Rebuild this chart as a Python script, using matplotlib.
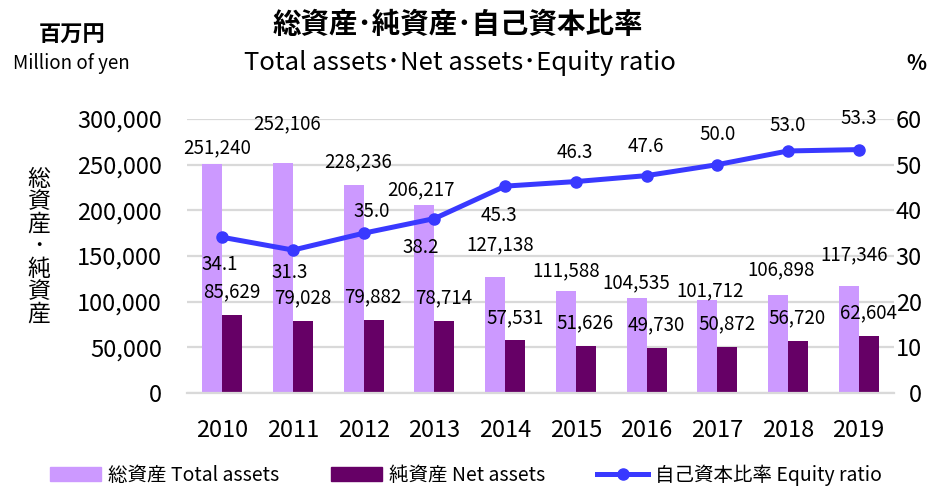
import matplotlib
matplotlib.use("Agg")
import matplotlib.pyplot as plt
import numpy as np
from matplotlib.patches import Patch
from matplotlib.lines import Line2D

plt.rcParams['font.family'] = ['Noto Sans CJK JP', 'DejaVu Sans']

years = ['2010', '2011', '2012', '2013', '2014', '2015', '2016', '2017', '2018', '2019']
total_assets = [251240, 252106, 228236, 206217, 127138, 111588, 104535, 101712, 106898, 117346]
net_assets = [85629, 79028, 79882, 78714, 57531, 51626, 49730, 50872, 56720, 62604]
equity_ratio = [34.1, 31.3, 35.0, 38.2, 45.3, 46.3, 47.6, 50.0, 53.0, 53.3]

# label offsets in pixels (dx from category centre, dy above the mark)
total_dx = [-5, -5.6, -5.2, -13.8, -5.4, -10, -10.6, -7.2, -6.8, -4.4]
total_dy = [15.5, 38.7, 22.5, 14.7, 31.9, 20.1, 14.5, 9.1, 25.4, 30.8]
ratio_dx = [-3, -3.6, 7.8, -13.8, -6.4, -1, -0.6, 0, -0.8, -0.4]
ratio_dy = [-27.7, -22.9, 21.2, -28.5, -28.9, 29.5, 29.6, 29.7, 25, 30.6]

c_total = '#cc99ff'
c_net = '#660066'
c_line = '#3939ff'
c_grid = '#d9d9d9'

W, H = 928, 487
fig = plt.figure(figsize=(W / 100, H / 100), dpi=100)
ax = fig.add_axes([187 / W, 1 - 393 / H, (894 - 187) / W, (393 - 119) / H])
ax2 = ax.twinx()

x = np.arange(len(years))
w = 0.283
ax.bar(x - w / 2, total_assets, w, color=c_total, zorder=2)
ax.bar(x + w / 2, net_assets, w, color=c_net, zorder=2)

ax.set_xlim(-0.5, len(years) - 0.5)
ax.set_ylim(0, 300000)
ax.set_yticks(np.arange(0, 300001, 50000))
ax.set_yticklabels([f'{v:,}' for v in range(0, 300001, 50000)])
ax.set_xticks(x)
ax.set_xticklabels(years)
ax.yaxis.grid(True, color=c_grid, linewidth=1.6, zorder=0)
ax.set_axisbelow(True)
for s in ['top', 'right', 'left']:
    ax.spines[s].set_visible(False)
ax.spines['bottom'].set_color(c_grid)
ax.spines['bottom'].set_linewidth(1.6)
ax.tick_params(axis='y', length=0, pad=18, labelsize=17)
ax.tick_params(axis='x', length=0, pad=19, labelsize=17)

ax2.plot(x, equity_ratio, color=c_line, linewidth=3.6, marker='o', markersize=8, zorder=3)
ax2.set_ylim(0, 60)
ax2.set_yticks(np.arange(0, 61, 10))
for s in ax2.spines.values():
    s.set_visible(False)
ax2.tick_params(axis='y', length=0, pad=20, labelsize=17)
for lab in ax2.get_yticklabels():
    lab.set_horizontalalignment('right')

px = 0.72  # points per pixel
for i in range(len(years)):
    ax.annotate(f'{total_assets[i]:,}', (x[i], total_assets[i]),
                xytext=(total_dx[i] * px, total_dy[i] * px), textcoords='offset points',
                ha='center', va='center', fontsize=13.5, zorder=5)
    ax.annotate(f'{net_assets[i]:,}', (x[i], net_assets[i]),
                xytext=(9.5 * px, 23 * px), textcoords='offset points',
                ha='center', va='center', fontsize=13.5, zorder=5)
    ax2.annotate(f'{equity_ratio[i]:.1f}', (x[i], equity_ratio[i]),
                 xytext=(ratio_dx[i] * px, ratio_dy[i] * px), textcoords='offset points',
                 ha='center', va='center', fontsize=13.5, zorder=5)

# titles and unit labels
fig.text(458 / W, 1 - 25 / H, '総資産･純資産･自己資本比率', ha='center', va='center',
         fontsize=20.5, fontweight='bold')
fig.text(459.5 / W, 1 - 63 / H, 'Total assets･Net assets･Equity ratio', ha='center', va='center',
         fontsize=18.5)
fig.text(72 / W, 1 - 35 / H, '百万円', ha='center', va='center', fontsize=16, fontweight='bold')
fig.text(71 / W, 1 - 63 / H, 'Million of yen', ha='center', va='center', fontsize=13.5)
fig.text(916 / W, 1 - 63 / H, '%', ha='center', va='center', fontsize=15, fontweight='bold')

fig.text(39 / W, 1 - 247 / H, '\n'.join('総資産･純資産'), ha='center', va='center',
         fontsize=16.5, linespacing=0.97)

handles = [Patch(color=c_total), Patch(color=c_net),
           Line2D([0], [0], color=c_line, linewidth=3.6, marker='o', markersize=8)]
labels = ['総資産 Total assets', '純資産 Net assets', '自己資本比率 Equity ratio']
fig.legend(handles, labels, loc='center', bbox_to_anchor=(466 / W, 1 - 475 / H), ncol=3,
           frameon=False, fontsize=14, handlelength=2.6, handletextpad=0.35, columnspacing=2.7)

fig.savefig('out.png', dpi=100)
